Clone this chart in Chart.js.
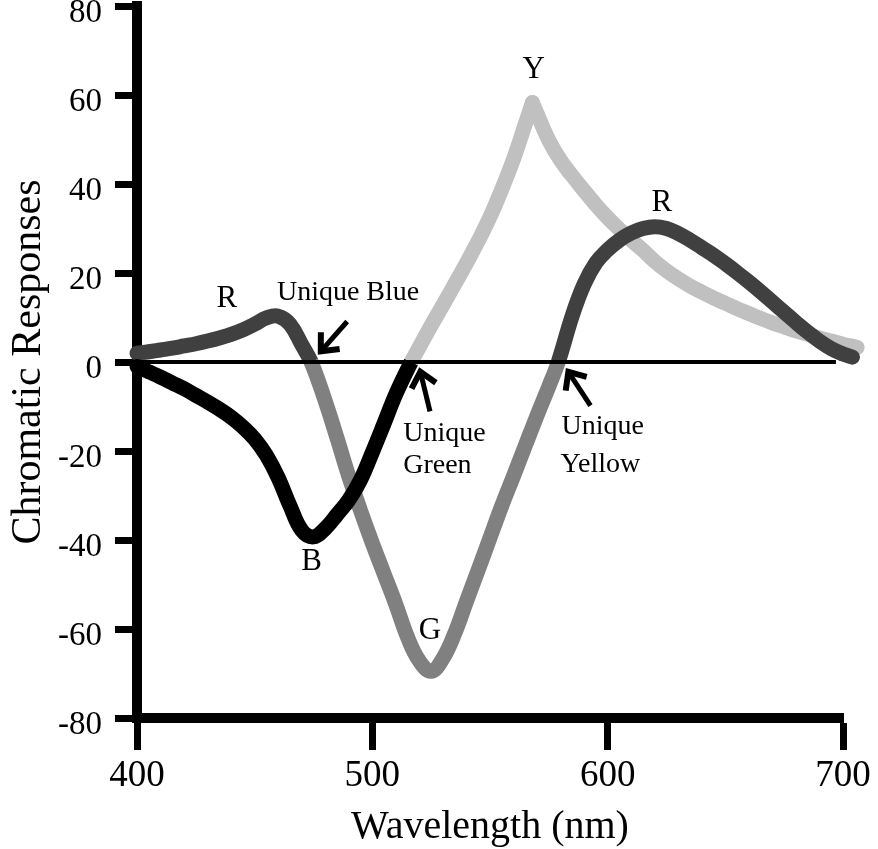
<!DOCTYPE html>
<html>
<head>
<meta charset="utf-8">
<title>Chromatic Responses</title>
<script src="https://cdn.jsdelivr.net/npm/chart.js@4.4.1/dist/chart.umd.min.js"></script>
<style>
  html, body { margin: 0; padding: 0; background: #fff; }
  canvas { display: block; }
</style>
</head>
<body>
<canvas id="chart" width="878" height="849"></canvas>
<script>
// Datos
const xTicks = [400, 500, 600, 700];
const yTicks = [-80, -60, -40, -20, 0, 20, 40, 60, 80];

// canal rojo-verde (R positivo, G negativo)
const rgWavelengths = [400, 405, 410, 415, 420, 425, 430, 435, 440, 445, 450, 455, 460, 465, 470, 474,
  480, 485, 490, 495, 500, 505, 510, 515, 520, 525, 530, 535, 540, 545, 550, 555, 560, 565, 570, 575, 579,
  585, 590, 595, 600, 605, 610, 615, 620, 625, 630, 635, 640, 645, 650, 655, 660, 665, 670, 675, 680, 685, 690, 695, 700, 704];
const rgResponses = [2.0, 2.3, 2.7, 3.1, 3.6, 4.1, 4.7, 5.4, 6.2, 7.2, 8.5, 9.9, 10.3, 8.5, 3.9, 0,
  -8.8, -17.1, -25.7, -33.4, -40.7, -47.6, -54.5, -61.9, -67.2, -69.5, -66.6, -61, -53.8, -46.7, -39.5, -32.3, -25.6, -18.8, -12, -5.5, 0,
  10.5, 17.5, 22.3, 25.2, 27.4, 29, 30, 30.4, 30, 28.9, 27.4, 25.7, 24, 22.1, 20.1, 18, 15.8, 13.5, 11.2, 8.9, 6.7, 4.7, 3, 1.8, 1.1];

// canal amarillo-azul (Y positivo, B negativo)
const ybWavelengths = [400, 405, 410, 415, 420, 425, 430, 435, 440, 445, 450, 455, 460, 465, 470, 475, 480, 485, 490, 495, 500, 505, 510, 516.5,
  520, 525, 530, 535, 540, 545, 550, 555, 560, 565, 568,
  570, 575, 580, 585, 590, 595, 600, 605, 610, 615, 620, 625, 630, 635, 640, 645, 650, 655, 660, 665, 670, 675, 680, 685, 690, 695, 700, 706];
const ybResponses = [-1.0, -2.2, -3.4, -4.7, -6.0, -7.5, -9.0, -10.6, -12.4, -14.6, -17.3, -21, -26, -32.3, -37.8, -39.3, -37.4, -34.3, -31, -26.5, -20.3, -13.8, -7.2, 0,
  3.4, 8.2, 12.8, 17.5, 22.2, 27.2, 32.6, 38.8, 45.6, 53.5, 58.3,
  55.8, 49.8, 45.3, 41.8, 38.5, 35.3, 32.4, 29.8, 27.4, 25.1, 22.6, 20.5, 18.7, 17.1, 15.7, 14.4, 13.2, 12, 10.9, 9.8, 8.8, 7.9, 7, 6.2, 5.4, 4.7, 4.0, 3.3];

const zeroLineWl = [400, 697];

// Etiquetas y flechas
const labelTexts = ['R', 'Unique Blue', 'Y', 'R', 'B', 'G', 'Unique', 'Green', 'Unique', 'Yellow'];
const labelWl = [438.2, 489.7, 568.6, 623, 474.2, 524.5, 513.1, 513.1, 580.4, 580];
const labelResp = [14.2, 15.6, 65.7, 35.7, -44.8, -60.5, -16.1, -23.3, -14.6, -23.1];

const arrowTipWl = [478.1, 520.4, 583.3];
const arrowTipResp = [2.4, -2.2, -2.2];
const arrowTailWl = [489.3, 524.5, 592.7];
const arrowTailResp = [9.1, -11.1, -9.8];

const SERIF = "'Liberation Serif', 'Times New Roman', serif";
Chart.defaults.font.family = SERIF;
Chart.defaults.color = '#000';

const toPoints = (xs, ys) => xs.map((x, i) => ({ x, y: ys[i] }));
const peakIdx = ybResponses.indexOf(Math.max(...ybResponses));

const capFor = (lastIdx) => (ctx) =>
  (ctx.p0DataIndex === 0 || ctx.p1DataIndex === lastIdx) ? 'round' : 'butt';

const curve = (data, colorFn) => ({
  data,
  borderWidth: 15,
  pointRadius: 0,
  fill: false,
  clip: false,
  tension: 0.4,
  borderJoinStyle: 'round',
  segment: {
    borderColor: colorFn,
    borderCapStyle: capFor(data.length - 1)
  }
});

const midY = (ctx) => (ctx.p0.parsed.y + ctx.p1.parsed.y) / 2;

const ybRise = toPoints(ybWavelengths.slice(0, peakIdx + 1), ybResponses.slice(0, peakIdx + 1));
const ybFall = toPoints(ybWavelengths.slice(peakIdx), ybResponses.slice(peakIdx));

const annotations = {
  id: 'annotations',
  afterDatasetsDraw(chart) {
    const { ctx, scales: { x, y } } = chart;
    ctx.save();
    ctx.fillStyle = '#000';
    ctx.textBaseline = 'middle';
    labelTexts.forEach((t, i) => {
      const single = t.length === 1;
      ctx.font = (single ? '31px ' : '28px ') + SERIF;
      ctx.textAlign = (single || t === 'Unique Blue') ? 'center' : 'left';
      ctx.fillText(t, x.getPixelForValue(labelWl[i]), y.getPixelForValue(labelResp[i]));
    });

    ctx.strokeStyle = '#000';
    arrowTipWl.forEach((_, i) => {
      const tx = x.getPixelForValue(arrowTipWl[i]);
      const ty = y.getPixelForValue(arrowTipResp[i]);
      const sx = x.getPixelForValue(arrowTailWl[i]);
      const sy = y.getPixelForValue(arrowTailResp[i]);
      const ang = Math.atan2(ty - sy, tx - sx);
      ctx.lineWidth = 5;
      ctx.lineCap = 'butt';
      ctx.beginPath();
      ctx.moveTo(sx, sy);
      ctx.lineTo(tx - 3 * Math.cos(ang), ty - 3 * Math.sin(ang));
      ctx.stroke();
      const len = 19, spread = 0.72;
      ctx.lineWidth = 6;
      ctx.lineJoin = 'miter';
      ctx.beginPath();
      ctx.moveTo(tx - len * Math.cos(ang - spread), ty - len * Math.sin(ang - spread));
      ctx.lineTo(tx, ty);
      ctx.lineTo(tx - len * Math.cos(ang + spread), ty - len * Math.sin(ang + spread));
      ctx.stroke();
    });
    ctx.restore();
  }
};

new Chart(document.getElementById('chart'), {
  type: 'line',
  data: {
    datasets: [
      {
        data: toPoints(zeroLineWl, [0, 0]),
        borderColor: '#000',
        borderWidth: 4,
        pointRadius: 0,
        tension: 0,
        clip: false
      },
      curve(ybRise, (ctx) => midY(ctx) < 0 ? '#000000' : '#c0c0c0'),
      curve(toPoints(rgWavelengths, rgResponses), (ctx) => midY(ctx) < 0 ? '#808080' : '#404040'),
      curve(ybFall, () => '#c0c0c0')
    ]
  },
  options: {
    responsive: false,
    animation: false,
    devicePixelRatio: 1,
    layout: { padding: { top: 6, right: 35, bottom: 0, left: 0 } },
    plugins: {
      legend: { display: false },
      tooltip: { enabled: false }
    },
    scales: {
      x: {
        type: 'linear',
        bounds: 'data',
        // rango fijo 400-700 sin recortar los puntos que pasan de 700
        afterDataLimits: (s) => { s.min = xTicks[0]; s.max = xTicks[xTicks.length - 1]; },
        afterBuildTicks: (s) => { s.ticks = xTicks.map(v => ({ value: v })); },
        afterFit: (s) => { s.height = 131; s.paddingLeft = 0; s.paddingRight = 0; },
        ticks: { font: { size: 37 }, color: '#000', padding: 4, maxRotation: 0 },
        grid: { drawOnChartArea: false, drawTicks: true, tickLength: 32, tickWidth: 7, tickColor: '#000' },
        border: { display: true, width: 10, color: '#000' },
        title: { display: true, text: 'Wavelength (nm)', font: { size: 40, lineHeight: 1.1 }, color: '#000', padding: 0 }
      },
      y: {
        type: 'linear',
        min: -80,
        max: 80,
        afterBuildTicks: (s) => { s.ticks = yTicks.map(v => ({ value: v })); },
        afterFit: (s) => { s.width = 137; s.paddingTop = 0; s.paddingBottom = 0; },
        ticks: { font: { size: 33 }, color: '#000', padding: 13, labelOffset: 7 },
        grid: { drawOnChartArea: false, drawTicks: true, tickLength: 22, tickWidth: 7, tickColor: '#000' },
        border: { display: true, width: 10, color: '#000' },
        title: { display: true, text: 'Chromatic Responses', font: { size: 42 }, color: '#000', padding: 4 }
      }
    }
  },
  plugins: [annotations]
});
</script>
</body>
</html>
